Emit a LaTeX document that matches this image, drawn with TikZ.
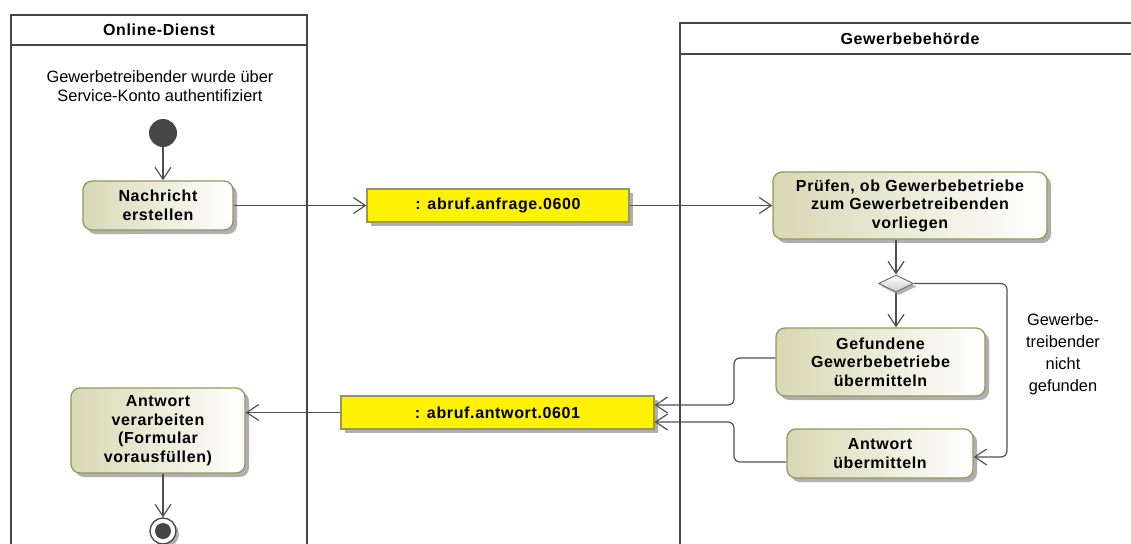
\documentclass[tikz,border=0pt]{standalone}
\usepackage{fontspec}
\setmainfont{Liberation Sans}
\newfontface\bxfont{Liberation Sans Bold}[LetterSpace=4]
\usetikzlibrary{arrows.meta,shapes.geometric,shadows,calc}
\definecolor{lanec}{RGB}{70,70,70}
\definecolor{linec}{RGB}{80,80,80}
\definecolor{boxborder}{RGB}{150,150,95}
\definecolor{boxfill}{RGB}{216,216,180}
\definecolor{shadowc}{RGB}{175,175,175}
\tikzset{
  lane/.style={draw=lanec, line width=2.2pt},
  action/.style={draw=boxborder, line width=1.3pt, rounded corners=9pt,
    left color=boxfill, right color=white, align=center,
    font=\bxfont\fontsize{16}{18.5}\selectfont, inner sep=0pt,
    drop shadow={shadow xshift=4pt, shadow yshift=-4pt, fill=shadowc, opacity=1}},
  objbox/.style={draw=boxborder, line width=1.1pt, fill=yellow, align=center,
    font=\bxfont\fontsize{16}{18.5}\selectfont, inner sep=0pt,
    drop shadow={shadow xshift=4pt, shadow yshift=-4pt, fill=shadowc, opacity=1}},
  flow/.style={draw=linec, line width=1.2pt, -{Straight Barb[length=12pt,width=16pt,line width=1.2pt]}},
  plain/.style={align=center, font=\fontsize{16.4}{19}\selectfont, inner sep=0pt},
  hdr/.style={font=\bxfont\fontsize{16}{18.5}\selectfont, inner sep=0pt},
}
\begin{document}
\begin{tikzpicture}[x=1pt, y=-1pt]
\useasboundingbox (0,0) rectangle (1131,543);
\clip (0,0) rectangle (1131,543);
% lanes
\draw[lane] (11,560) -- (11,15) -- (307,15) -- (307,560);
\draw[lane] (11,45) -- (307,45);
\draw[lane] (680,560) -- (680,23) -- (1140,23);
\draw[lane] (680,54) -- (1140,54);
\node[hdr] (h1) at (159,30) {Online-Dienst};
\node[hdr] (h2) at (910,38.5) {Gewerbebehörde};
\node[plain] (desc) at (160,86.5) {Gewerbetreibender wurde über\\Service-Konto authentifiziert};
% start / end
\node[circle, fill=lanec, minimum size=28pt, inner sep=0pt] (start) at (163,133) {};
\node[circle, draw=lanec, line width=1.3pt, fill=white, minimum size=26pt, inner sep=0pt,
  drop shadow={shadow xshift=3pt, shadow yshift=-3pt, fill=shadowc, opacity=1}] (end) at (163,531) {};
\fill[lanec] (end) circle (8pt);
% actions
\node[action, minimum width=150pt, minimum height=49pt] (n1) at (158,205.5) {Nachricht\\erstellen};
\node[objbox, minimum width=262pt, minimum height=33pt] (y1) at (498,205.5) {: abruf.anfrage.0600};
\node[action, minimum width=274pt, minimum height=67pt] (p1) at (910,205.5) {Prüfen, ob Gewerbebetriebe\\zum Gewerbetreibenden\\vorliegen};
\node[diamond, draw=linec!80, line width=1pt, top color=white, bottom color=black!20,
  minimum width=35pt, minimum height=17pt, inner sep=0pt,
  drop shadow={shadow xshift=3pt, shadow yshift=-3pt, fill=shadowc, opacity=1}] (dia) at (896,283.5) {};
\node[action, minimum width=209pt, minimum height=68pt] (g1) at (880.5,362) {Gefundene\\Gewerbebetriebe\\übermitteln};
\node[action, minimum width=186pt, minimum height=49pt] (a1) at (880,453.5) {Antwort\\übermitteln};
\node[objbox, minimum width=313pt, minimum height=33pt] (y2) at (497.5,412.5) {: abruf.antwort.0601};
\node[action, minimum width=174pt, minimum height=85pt] (v1) at (158,430.5) {Antwort\\verarbeiten\\(Formular\\vorausfüllen)};
\node[plain, font=\fontsize{16.4}{22}\selectfont] (lbl) at (1063,354) {Gewerbe-\\treibender\\nicht\\gefunden};
% connectors
\draw[flow] (start.south) -- (start.south |- n1.north);
\draw[flow] (n1.east) -- (y1.west);
\draw[flow] (y1.east) -- (p1.west);
\draw[flow] (dia.north |- p1.south) -- (dia.north);
\draw[flow] (dia.south) -- (dia.south |- g1.north);
\coordinate (dr) at (1007,283.5);
\coordinate (ar) at (a1.east |- 0,457);
\draw[flow, rounded corners=6pt] (dia.east) -- (dr) -- (dr |- ar) -- (ar);
\coordinate (gw) at (g1.west |- 0,358);
\coordinate (aw) at (a1.west |- 0,462);
\coordinate (ye1) at ($(y2.east)+(0,-7.5)$);
\coordinate (ye2) at ($(y2.east)+(0,9.5)$);
\draw[flow, rounded corners=6pt] (gw) -- (734,358) -- (734,405) -- (ye1);
\draw[flow, rounded corners=6pt] (aw) -- (734,462) -- (734,422) -- (ye2);
\draw[flow] (y2.west) -- (v1.east |- y2.west);
\draw[flow] (v1.south -| end.north) -- (end.north);
\end{tikzpicture}
\end{document}
